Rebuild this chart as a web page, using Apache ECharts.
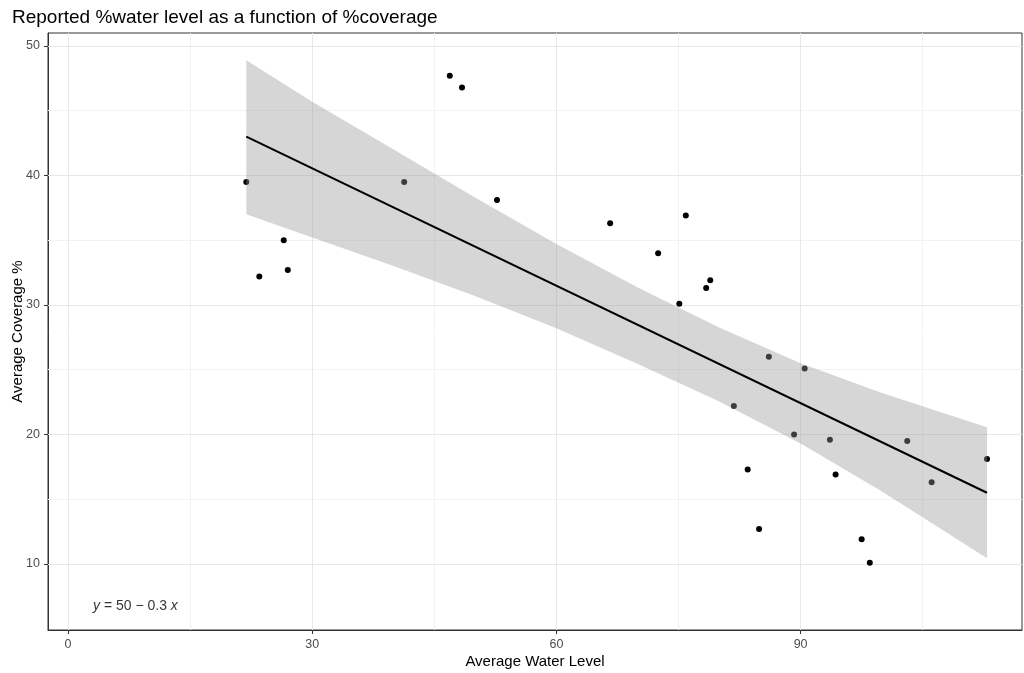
<!DOCTYPE html>
<html lang="en">
<head>
<meta charset="UTF-8">
<title>Water level vs coverage</title>
<script src="https://cdn.jsdelivr.net/npm/echarts@6.0.0/dist/echarts.min.js"></script>
<style>
  body { margin: 0; background: #fff; }
  #main { width: 1024px; height: 673px; }
</style>
</head>
<body>
<div id="main"></div>
<script type="text/javascript">
const waterLevel = [21.9, 23.5, 26.5, 27.0, 41.3, 46.9, 48.4, 52.7, 66.6, 72.5, 75.9, 75.1, 78.4, 78.9,
    81.8, 83.5, 84.9, 86.1, 89.2, 90.5, 93.6, 94.3, 97.5, 98.5, 103.1, 106.1, 112.9];
const coverage = [39.5, 32.2, 35.0, 32.7, 39.5, 47.7, 46.8, 38.1, 36.3, 34.0, 36.9, 30.1, 31.3, 31.9,
    22.2, 17.3, 12.7, 26.0, 20.0, 25.1, 19.6, 16.9, 11.9, 10.1, 19.5, 16.3, 18.1];

// fitted line + confidence band
const fitX = [21.9, 112.9];
const fitY = [43.0, 15.5];
const bandX = [21.9, 30, 40, 50, 60, 70, 80, 90, 100, 112.9];
const bandUpper = [48.9, 45.7, 42.0, 38.3, 34.7, 31.35, 28.25, 25.5, 23.2, 20.55];
const bandLower = [37.0, 35.2, 33.0, 30.7, 28.2, 25.45, 22.55, 19.3, 15.6, 10.45];

const xTicks = [0, 30, 60, 90];
const xMinor = [15, 45, 75, 105];
const yTicks = [10, 20, 30, 40, 50];
const yMinor = [15, 25, 35, 45];

const eqLabelPos = [3.07, 6.76];

let myChart = echarts.init(document.getElementById('main'));

const gridLine = (vals, key, color) => vals.map(v => ({ [key]: v, lineStyle: { color: color, width: 1, type: 'solid' } }));

let options = {
    animation: false,
    textStyle: { fontFamily: 'Liberation Sans, Arial, sans-serif' },
    title: {
        text: 'Reported %water level as a function of %coverage',
        left: 7, top: 3,
        textStyle: { fontSize: 19, fontWeight: 'normal', color: '#000' }
    },
    grid: {
        left: 48, right: 2, top: 33, bottom: 43, show: true, borderColor: '#333', borderWidth: 1,
        containLabel: false, outerBoundsMode: 'none'
    },
    xAxis: {
        type: 'value', min: -2.46, max: 117.2,
        name: 'Average Water Level', nameLocation: 'middle', nameGap: 24,
        nameTextStyle: { fontSize: 15, color: '#000' },
        nameMoveOverlap: false,
        axisLine: { show: true, onZero: false, lineStyle: { color: '#333' } },
        axisTick: { show: true, customValues: xTicks, length: 4, lineStyle: { color: '#333' } },
        axisLabel: { customValues: xTicks, color: '#4d4d4d', fontSize: 12.5, margin: 8 },
        splitLine: { show: false }
    },
    yAxis: {
        type: 'value', min: 4.9, max: 51.0,
        name: 'Average Coverage %', nameLocation: 'middle', nameGap: 23,
        nameTextStyle: { fontSize: 15, color: '#000' },
        nameMoveOverlap: false,
        axisLine: { show: true, onZero: false, lineStyle: { color: '#333' } },
        axisTick: { show: true, customValues: yTicks, length: 4, lineStyle: { color: '#333' } },
        axisLabel: { customValues: yTicks, color: '#4d4d4d', fontSize: 12.5, margin: 8 },
        splitLine: { show: false }
    },
    series: [
        {
            // panel grid lines
            name: 'grid', type: 'line', data: [], z: 1, silent: true,
            markLine: {
                z: 1, silent: true, symbol: 'none', label: { show: false }, animation: false,
                data: [].concat(
                    gridLine(xMinor, 'xAxis', '#f2f2f2'),
                    gridLine(yMinor, 'yAxis', '#f2f2f2'),
                    gridLine(xTicks, 'xAxis', '#e8e8e8'),
                    gridLine(yTicks, 'yAxis', '#e8e8e8')
                )
            }
        },
        {
            name: 'points', type: 'scatter', z: 2, symbolSize: 6,
            itemStyle: { color: '#000', opacity: 1 },
            data: waterLevel.map((x, i) => [x, coverage[i]])
        },
        {
            name: 'band', type: 'custom', z: 3,
            data: bandX.map((x, i) => [x, bandUpper[i], bandLower[i]]),
            encode: { x: 0, y: [1, 2] },
            renderItem: function (params, api) {
                if (params.dataIndex !== 0) return;
                let pts = [];
                for (let i = 0; i < bandX.length; i++) pts.push(api.coord([bandX[i], bandUpper[i]]));
                for (let i = bandX.length - 1; i >= 0; i--) pts.push(api.coord([bandX[i], bandLower[i]]));
                return { type: 'polygon', shape: { points: pts }, style: { fill: '#999999', opacity: 0.4 } };
            }
        },
        {
            name: 'fit', type: 'line', z: 4, symbol: 'none',
            lineStyle: { color: '#000', width: 2 },
            data: fitX.map((x, i) => [x, fitY[i]])
        },
        {
            name: 'equation', type: 'scatter', z: 5, symbolSize: 0,
            data: [eqLabelPos],
            label: {
                show: true, position: 'right', distance: 0,
                formatter: '{i|y} = 50 \u2212 0.3 {i|x}',
                fontSize: 14, color: '#000',
                rich: { i: { fontStyle: 'italic', fontSize: 14, color: '#000' } }
            }
        }
    ]
};

myChart.setOption(options);
</script>
</body>
</html>
